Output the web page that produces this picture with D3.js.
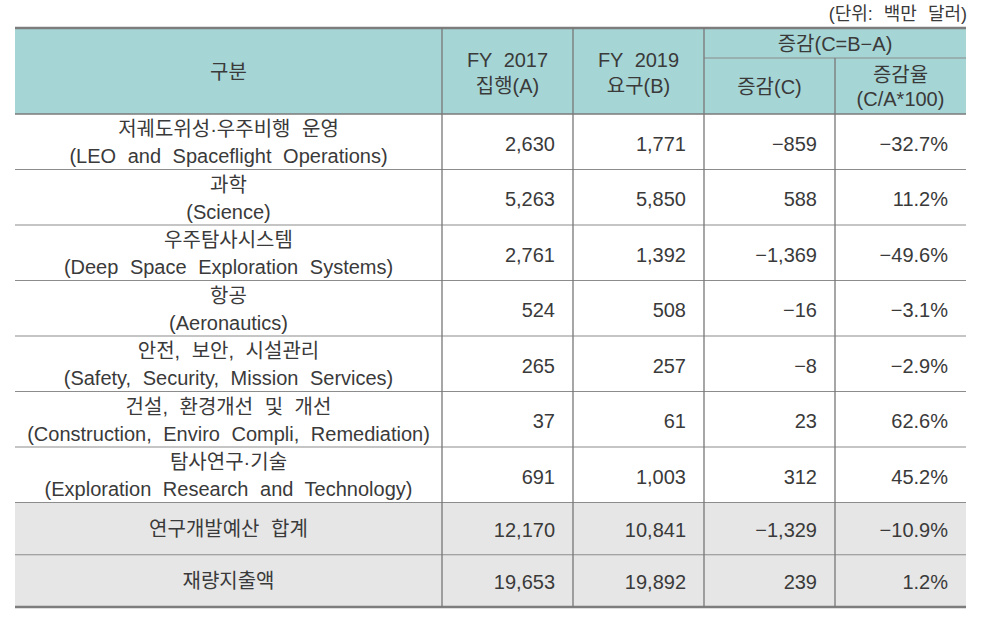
<!DOCTYPE html>
<html>
<head>
<meta charset="utf-8">
<script src="https://cdn.jsdelivr.net/npm/d3@7"></script>
<style>
  html, body { margin: 0; padding: 0; background: #ffffff; }
  svg { display: block; }
  text { font-family: "Liberation Sans", "Noto Sans CJK KR", sans-serif; fill: #3a3a3a; }
</style>
</head>
<body>
<svg id="chart" width="1005" height="628"></svg>
<script>
// ---------------- data ----------------
const unitLabel = "(단위: 백만 달러)";
const headerLabel = "구분";
const colHeadA = ["FY 2017", "집행(A)"];
const colHeadB = ["FY 2019", "요구(B)"];
const colHeadGroup = "증감(C=B−A)";
const colHeadC = ["증감(C)"];
const colHeadRate = ["증감율", "(C/A*100)"];

const categoriesKo = [
  "저궤도위성·우주비행 운영",
  "과학",
  "우주탐사시스템",
  "항공",
  "안전, 보안, 시설관리",
  "건설, 환경개선 및 개선",
  "탐사연구·기술"
];
const categoriesEn = [
  "(LEO and Spaceflight Operations)",
  "(Science)",
  "(Deep Space Exploration Systems)",
  "(Aeronautics)",
  "(Safety, Security, Mission Services)",
  "(Construction, Enviro Compli, Remediation)",
  "(Exploration Research and Technology)"
];
const fy2017 = [2630, 5263, 2761, 524, 265, 37, 691];
const fy2019 = [1771, 5850, 1392, 508, 257, 61, 1003];
const changeC = [-859, 588, -1369, -16, -8, 23, 312];
const changeRate = [-32.7, 11.2, -49.6, -3.1, -2.9, 62.6, 45.2];

const summaryLabels = ["연구개발예산 합계", "재량지출액"];
const summaryFy2017 = [12170, 19653];
const summaryFy2019 = [10841, 19892];
const summaryChange = [-1329, 239];
const summaryRate = [-10.9, 1.2];

// ---------------- layout ----------------
const svg = d3.select("#chart");
const colEdges = [15, 442, 573, 704, 835, 966];
const yTop = 28, ySub = 58, yHead = 114, yDataEnd = 502.5, yBottom = 607;
const headFill = "#a6d5d5";
const sumFill = "#e6e6e6";
const lineColor = "#8c8c8c";
const fontSize = 20;
const padRight = 18;

const yData = d3.scaleLinear().domain([0, categoriesKo.length]).range([yHead, yDataEnd]);
const ySum = d3.scaleLinear().domain([0, summaryLabels.length]).range([yDataEnd, yBottom]);

const fmtNum = d3.format(",");
const fmtPct = v => d3.format(".1f")(v) + "%";

// backgrounds
svg.append("rect").attr("x", colEdges[0]).attr("y", yTop)
  .attr("width", colEdges[5] - colEdges[0]).attr("height", yHead - yTop).attr("fill", headFill);
svg.append("rect").attr("x", colEdges[0]).attr("y", yDataEnd)
  .attr("width", colEdges[5] - colEdges[0]).attr("height", yBottom - yDataEnd).attr("fill", sumFill);

// horizontal lines
const hLines = [];
for (let i = 1; i < categoriesKo.length; i++) hLines.push(yData(i));
hLines.push(yDataEnd);
for (let i = 1; i < summaryLabels.length; i++) hLines.push(ySum(i));
svg.selectAll("line.h").data(hLines).join("line")
  .attr("x1", colEdges[0]).attr("x2", colEdges[5])
  .attr("y1", d => d).attr("y2", d => d)
  .attr("stroke", lineColor).attr("stroke-width", 1.2);
// header bottom
svg.append("line").attr("x1", colEdges[0]).attr("x2", colEdges[5])
  .attr("y1", yHead).attr("y2", yHead).attr("stroke", "#7a7a7a").attr("stroke-width", 1.5);
// sub header line
svg.append("line").attr("x1", colEdges[3]).attr("x2", colEdges[5])
  .attr("y1", ySub).attr("y2", ySub).attr("stroke", lineColor).attr("stroke-width", 1.2);
// top & bottom borders
[yTop, yBottom].forEach(y => {
  svg.append("line").attr("x1", colEdges[0]).attr("x2", colEdges[5])
    .attr("y1", y).attr("y2", y).attr("stroke", "#7d7d7d").attr("stroke-width", 2.5);
});
// vertical lines
[1, 2, 3].forEach(i => {
  svg.append("line").attr("x1", colEdges[i]).attr("x2", colEdges[i])
    .attr("y1", yTop).attr("y2", yBottom).attr("stroke", "#777").attr("stroke-width", 1.3);
});
svg.append("line").attr("x1", colEdges[4]).attr("x2", colEdges[4])
  .attr("y1", ySub).attr("y2", yBottom).attr("stroke", "#777").attr("stroke-width", 1.3);

function addText(x, y, str, anchor, size) {
  return svg.append("text").attr("x", x).attr("y", y)
    .attr("text-anchor", anchor || "middle")
    .attr("dominant-baseline", "central")
    .attr("font-size", size || fontSize)
    .style("word-spacing", "6px")
    .text(str);
}
function multi(cx, cy, lines, gap) {
  const n = lines.length;
  lines.forEach((s, i) => addText(cx, cy + (i - (n - 1) / 2) * gap, s));
}
const mid = i => (colEdges[i] + colEdges[i + 1]) / 2;

// unit label
addText(colEdges[5] + 1, 14, unitLabel, "end", 18);

// header
multi(mid(0), (yTop + yHead) / 2 + 1, [headerLabel], 26);
multi(mid(1), (yTop + yHead) / 2 + 2, colHeadA, 26);
multi(mid(2), (yTop + yHead) / 2 + 2, colHeadB, 26);
addText((colEdges[3] + colEdges[5]) / 2, (yTop + ySub) / 2 + 1, colHeadGroup);
multi(mid(3), (ySub + yHead) / 2 + 1, colHeadC, 24);
multi(mid(4), (ySub + yHead) / 2 + 1, colHeadRate, 24);

// data rows
categoriesKo.forEach((ko, i) => {
  const cy = (yData(i) + yData(i + 1)) / 2;
  addText(mid(0), cy - 12.5, ko);
  addText(mid(0), cy + 14.5, categoriesEn[i]);
  addText(colEdges[2] - padRight, cy + 2, fmtNum(fy2017[i]), "end");
  addText(colEdges[3] - padRight, cy + 2, fmtNum(fy2019[i]), "end");
  addText(colEdges[4] - padRight, cy + 2, fmtNum(changeC[i]), "end");
  addText(colEdges[5] - padRight, cy + 2, fmtPct(changeRate[i]), "end");
});

// summary rows
summaryLabels.forEach((lab, i) => {
  const cy = (ySum(i) + ySum(i + 1)) / 2;
  addText(mid(0), cy, lab);
  addText(colEdges[2] - padRight, cy + 1, fmtNum(summaryFy2017[i]), "end");
  addText(colEdges[3] - padRight, cy + 1, fmtNum(summaryFy2019[i]), "end");
  addText(colEdges[4] - padRight, cy + 1, fmtNum(summaryChange[i]), "end");
  addText(colEdges[5] - padRight, cy + 1, fmtPct(summaryRate[i]), "end");
});
</script>
</body>
</html>
